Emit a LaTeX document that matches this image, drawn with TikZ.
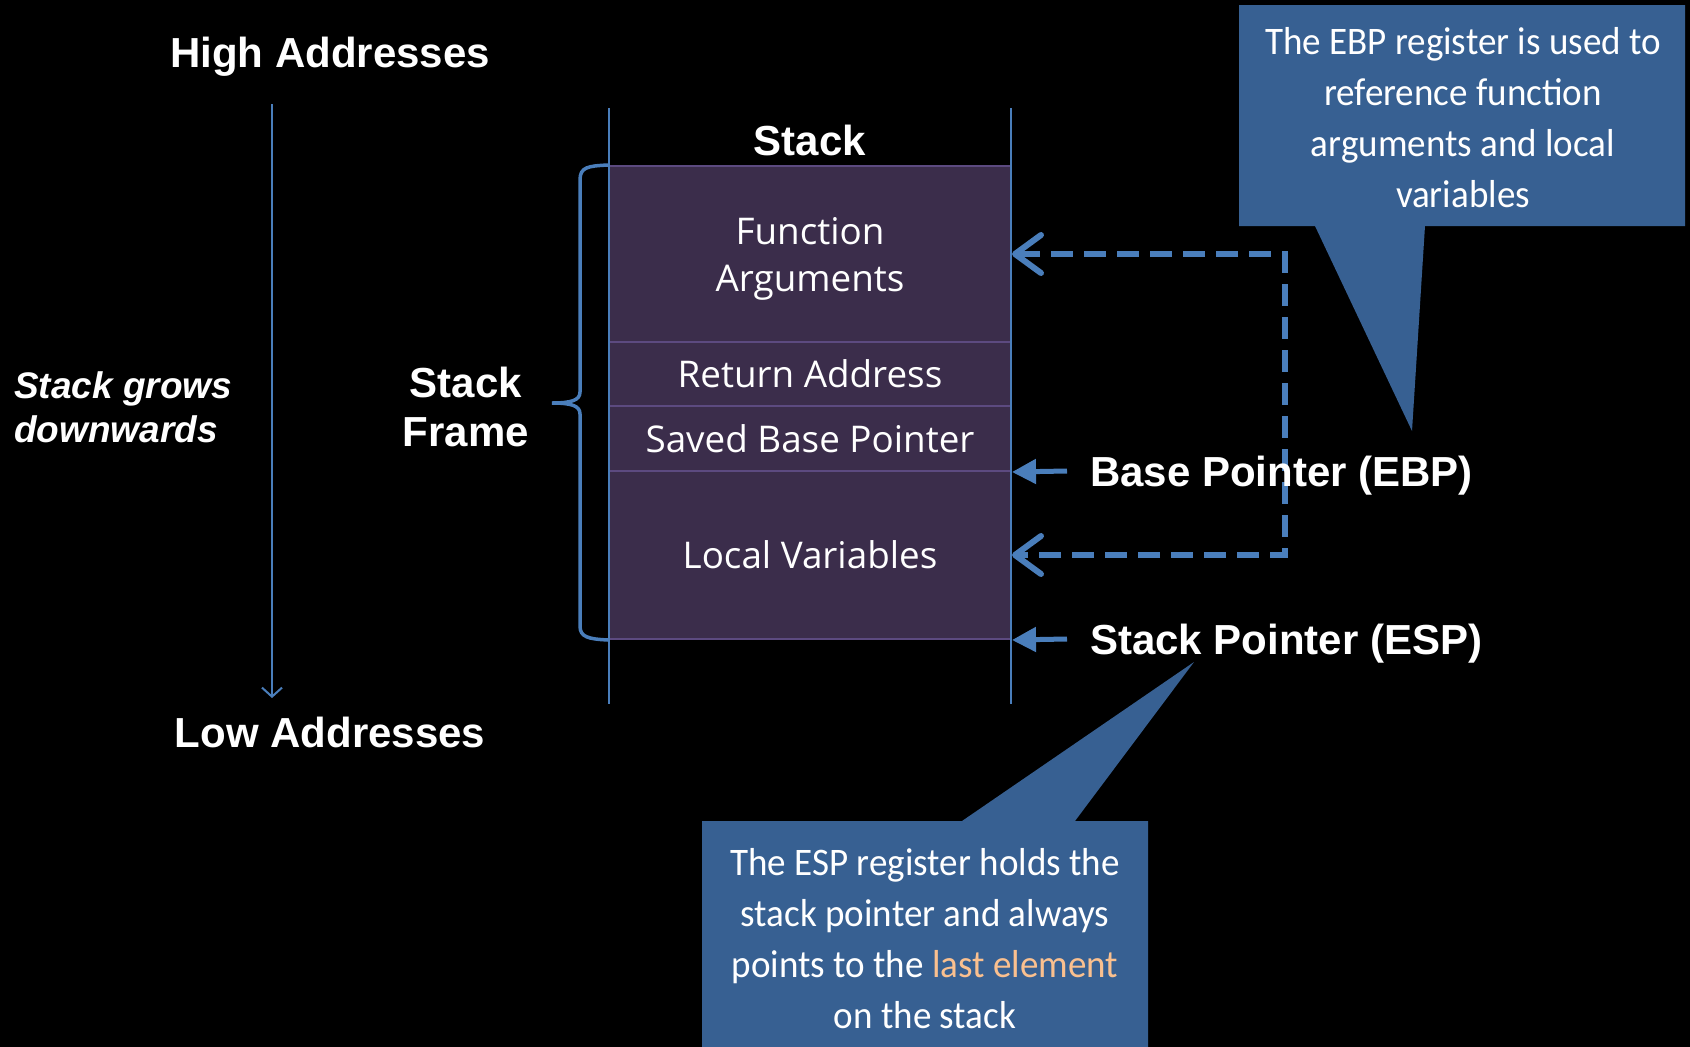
\documentclass[tikz,border=0pt]{standalone}
\usepackage{fontspec}
\usetikzlibrary{arrows.meta}
\newfontfamily\labf{Liberation Sans}
\newfontfamily\rowf{Open Sans}
\newfontfamily\callf{Carlito}[FakeStretch=0.95]
\definecolor{lnblue}{HTML}{4A7EBB}
\definecolor{cellfill}{HTML}{3B2D4B}
\definecolor{cellline}{HTML}{5C4A80}
\definecolor{callblue}{HTML}{376092}
\definecolor{peach}{HTML}{FAC08F}
\tikzset{
  biglab/.style={text=white, inner sep=0pt, font=\labf\bfseries\fontsize{42}{49}\selectfont},
  itlab/.style={text=white, inner sep=0pt, font=\labf\bfseries\itshape\fontsize{37}{44}\selectfont},
  stackrow/.style={draw=cellline, line width=2pt, fill=cellfill, text=white, inner sep=0pt,
    minimum width=402pt, align=center, font=\rowf\fontsize{36.8}{47}\selectfont},
  calltxt/.style={text=white, inner sep=0pt, align=center, font=\callf\fontsize{39}{51}\selectfont},
  callshape/.style={fill=callblue, draw=none},
  thinline/.style={draw=lnblue, line width=2pt},
  solidarrow/.style={draw=lnblue, line width=5pt, -{Triangle[length=24pt,width=24pt]}},
  dasharrow/.style={draw=lnblue, line width=6pt, dash pattern=on 22pt off 11pt,
    {Straight Barb[length=26pt,width=38pt,round]}-{Straight Barb[length=26pt,width=38pt,round]}},
  bracestyle/.style={draw=lnblue, line width=3.5pt},
}
\begin{document}
\begin{tikzpicture}[x=1pt,y=-1pt]
\fill[black] (0,0) rectangle (1690,1047);
\useasboundingbox (0,0) rectangle (1690,1047);

% address axis
\coordinate (gtop) at (272,104);
\coordinate (gbot) at (272,698);
\draw[thinline, -{Straight Barb[length=9pt,width=20pt]}] (gtop) -- (gbot);
\node[biglab, anchor=base] (high) at (330,67) {High Addresses};
\node[biglab, anchor=base] (low) at (330,747) {Low Addresses};
\node[itlab, anchor=west, align=left] (grow) at (14,407) {Stack grows\\downwards};
\node[biglab, align=center] (frame) at (466,407) {Stack\\Frame};

% stack
\node[biglab, anchor=base] (stacktitle) at (810,155) {Stack};
\node[stackrow, minimum height=176pt, text depth=0pt] (fa) at (810,254) {Function\\Arguments};
\node[stackrow, minimum height=64pt] (ra) at (810,374) {Return Address};
\node[stackrow, minimum height=65pt] (sbp) at (810,438.5) {Saved Base Pointer};
\node[stackrow, minimum height=168pt] (lv) at (810,555) {Local Variables};
\coordinate (lt) at (609,108);
\coordinate (lb) at (609,704);
\coordinate (rt) at (1011,108);
\coordinate (rb) at (1011,704);
\draw[thinline] (lt) -- (lb);
\draw[thinline] (rt) -- (rb);

% brace
\draw[bracestyle] (fa.north west) .. controls (588,166) and (580,167) .. (580,180)
  -- (580,392) .. controls (580,400) and (572,403) .. (552,403)
  .. controls (572,403) and (580,406) .. (580,414)
  -- (580,626) .. controls (580,637) and (588,639) .. (lv.south west);

% dashed EBP reference arrows
\coordinate (dtop) at (1285,254);
\coordinate (dbot) at (1285,555);
\draw[dasharrow] (fa.east) -- (dtop) -- (dbot) -- (lv.east);

% pointer arrows
\coordinate (ebpfrom) at (1067,471);
\coordinate (espfrom) at (1067,639);
\draw[solidarrow] (ebpfrom) -- (sbp.south east);
\draw[solidarrow] (espfrom) -- (lv.south east);
\node[biglab, anchor=base west] (ebp) at (1090,486) {Base Pointer (EBP)};
\node[biglab, anchor=base west] (esp) at (1090,654) {Stack Pointer (ESP)};

% callouts
\path[callshape] (1239,5) -- (1685,5) -- (1685,226) -- (1425,226) -- (1412,431) -- (1315,226) -- (1239,226) -- cycle;
\node[calltxt] (ebptxt) at (1463,118) {The EBP register is used to\\reference function\\arguments and local\\variables};
\path[callshape] (702,821) -- (962,821) -- (1194,662) -- (1075,821) -- (1148,821) -- (1148,1047) -- (702,1047) -- cycle;
\node[calltxt] (esptxt) at (925,939) {The ESP register holds the\\stack pointer and always\\points to the \textcolor{peach}{last element}\\on the stack};
\end{tikzpicture}
\end{document}
